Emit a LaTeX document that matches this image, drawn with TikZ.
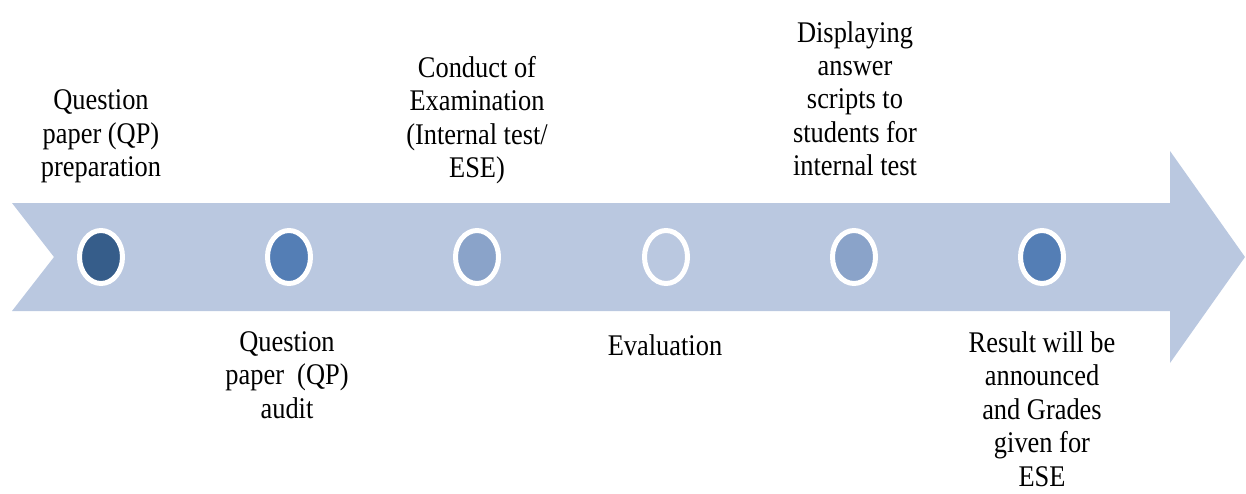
\documentclass[tikz,border=0pt]{standalone}
\usepackage{fontspec}
\setmainfont{Liberation Serif}
\newfontfamily\tnr[FakeStretch=0.88]{Liberation Serif}
\usetikzlibrary{shapes.geometric}
\definecolor{arrowfill}{RGB}{186,200,224}
\definecolor{dotA}{RGB}{54,93,138}
\definecolor{dotB}{RGB}{84,126,181}
\definecolor{dotC}{RGB}{138,163,201}
\begin{document}
\begin{tikzpicture}[x=1pt,y=-1pt,
  dot/.style={ellipse, draw=white, line width=5pt, minimum width=43pt, minimum height=53pt, inner sep=0pt},
  label/.style={align=center, inner sep=0pt, font=\tnr\fontsize{30}{33.4}\selectfont,
    execute at begin node=\strut, execute at end node=\strut}]
\useasboundingbox (0,0) rectangle (1246,493);
% timeline arrow
\fill[arrowfill] (12,203) -- (1170,203) -- (1170,151) -- (1245,257) -- (1170,363)
  -- (1170,311) -- (12,311) -- (54,257) -- cycle;
% dots
\node[dot, fill=dotA] (d1) at (101,257) {};
\node[dot, fill=dotB] (d2) at (289,257) {};
\node[dot, fill=dotC] (d3) at (477,257) {};
\node[dot, fill=arrowfill] (d4) at (666,257) {};
\node[dot, fill=dotC] (d5) at (854,257) {};
\node[dot, fill=dotB] (d6) at (1042,257) {};
% labels above
\node[label, anchor=south] (t1) at (101,187) {Question\\paper (QP)\\preparation};
\node[label, anchor=south] (t3) at (477,188) {Conduct of\\Examination\\(Internal test/\\ESE)};
\node[label, anchor=south] (t5) at (855,186) {Displaying\\answer\\scripts to\\students for\\internal test};
% labels below
\node[label, anchor=north] (t2) at (287,331.5) {Question\\paper\ \ (QP)\\audit};
\node[label, anchor=north] (t4) at (665,331.5) {Evaluation};
\node[label, anchor=north] (t6) at (1042,331.5) {Result will be\\announced\\and Grades\\given for\\ESE};
\end{tikzpicture}
\end{document}
